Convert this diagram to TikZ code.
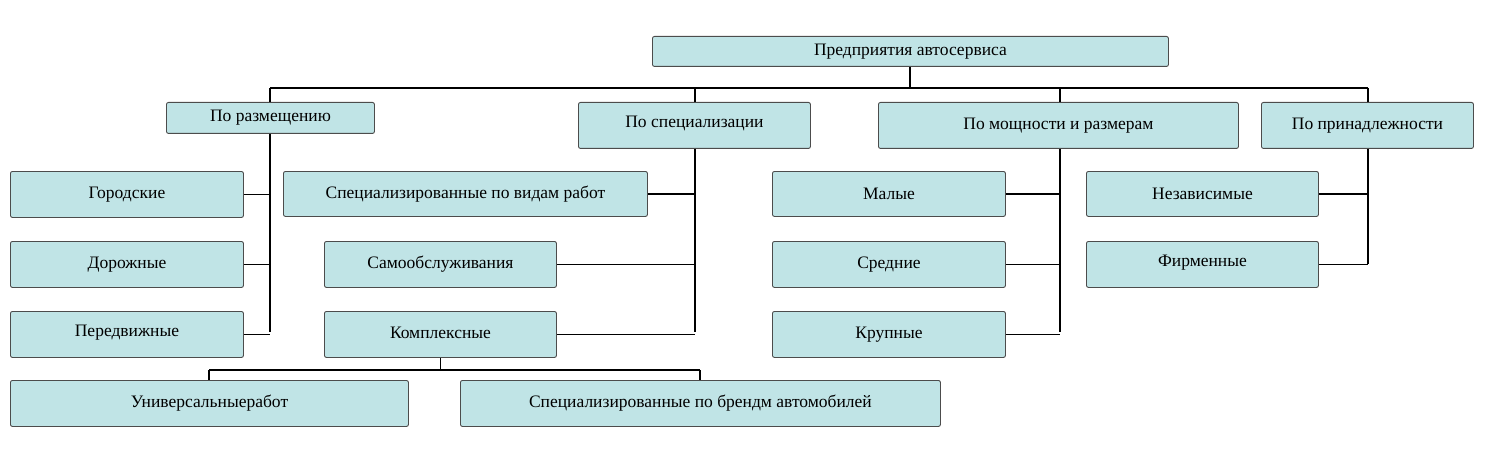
\documentclass[tikz,border=0pt]{standalone}
\usepackage{fontspec}
\setmainfont{Liberation Serif}
\begin{document}
\begin{tikzpicture}[x=1pt,y=-1pt,
  box/.style={draw=black!70,line width=0.9pt,fill={rgb,255:red,192;green,228;blue,230},rounded corners=2pt,anchor=north west,inner sep=0pt,font=\fontsize{17.5}{20}\selectfont},
  ln/.style={draw=black,line width=1.6pt}]
\useasboundingbox (0,0) rectangle (1488,468);
\newcommand{\bx}[6]{\node[box,minimum width=#4,minimum height=#5] (#1) at (#2,#3) {#6};}
\bx{top}{652}{36}{516}{30}{Предприятия автосервиса}
\bx{raz}{166}{102}{208}{31}{По размещению}
\bx{spe}{578}{102}{232}{46}{\raisebox{8pt}{По специализации}}
\bx{mos}{878}{102}{360}{46}{\raisebox{3pt}{По мощности и размерам}}
\bx{pri}{1261}{102}{212}{46}{\raisebox{3pt}{По принадлежности}}
\bx{gor}{10}{171}{233}{46}{Городские}
\bx{dor}{10}{241}{233}{46}{Дорожные}
\bx{per}{10}{311}{233}{46}{\raisebox{8pt}{Передвижные}}
\bx{svr}{283}{171}{364}{45}{Специализированные по видам работ}
\bx{sam}{324}{241}{232}{46}{Самообслуживания}
\bx{kom}{324}{311}{232}{46}{\raisebox{3pt}{Комплексные}}
\bx{uni}{10}{380}{398}{46}{Универсальныеработ}
\bx{sba}{460}{380}{480}{46}{Специализированные по брендм автомобилей}
\bx{mal}{772}{171}{233}{45}{Малые}
\bx{sre}{772}{241}{233}{46}{Средние}
\bx{kru}{772}{311}{233}{46}{Крупные}
\bx{nez}{1086}{171}{232}{45}{Независимые}
\bx{fir}{1086}{241}{232}{46}{\raisebox{8pt}{Фирменные}}
\coordinate (b1) at (270,88);
\coordinate (b2) at (1368,88);
\coordinate (v1) at (270,332);
\coordinate (v2) at (695,332);
\coordinate (v3) at (1060,332);
\coordinate (v4) at (1368,264);
\coordinate (k1) at (209,370);
\coordinate (k2) at (700,370);
\draw[ln] (top.south -| 910,0) -- (910,88);
\draw[ln] (b1) -- (b2);
\draw[ln] (b1) -- (raz.north -| b1);
\draw[ln] (695,88) -- (spe.north -| v2);
\draw[ln] (1060,88) -- (mos.north -| v3);
\draw[ln] (b2) -- (pri.north -| b2);
\draw[ln] (raz.south -| v1) -- (v1);
\draw[ln] (gor.east) -- (gor.east -| v1);
\draw[ln] (dor.east) -- (dor.east -| v1);
\draw[ln] (per.east) -- (per.east -| v1);
\draw[ln] (spe.south -| v2) -- (v2);
\draw[ln] (svr.east) -- (svr.east -| v2);
\draw[ln] (sam.east) -- (sam.east -| v2);
\draw[ln] (kom.east) -- (kom.east -| v2);
\draw[ln] (mos.south -| v3) -- (v3);
\draw[ln] (mal.east) -- (mal.east -| v3);
\draw[ln] (sre.east) -- (sre.east -| v3);
\draw[ln] (kru.east) -- (kru.east -| v3);
\draw[ln] (pri.south -| v4) -- (v4);
\draw[ln] (nez.east) -- (nez.east -| v4);
\draw[ln] (fir.east) -- (fir.east -| v4);
\draw[ln] (kom.south) -- (kom.south |- k1);
\draw[ln] (k1) -- (k2);
\draw[ln] (k1) -- (uni.north -| k1);
\draw[ln] (k2) -- (sba.north -| k2);
\end{tikzpicture}
\end{document}
